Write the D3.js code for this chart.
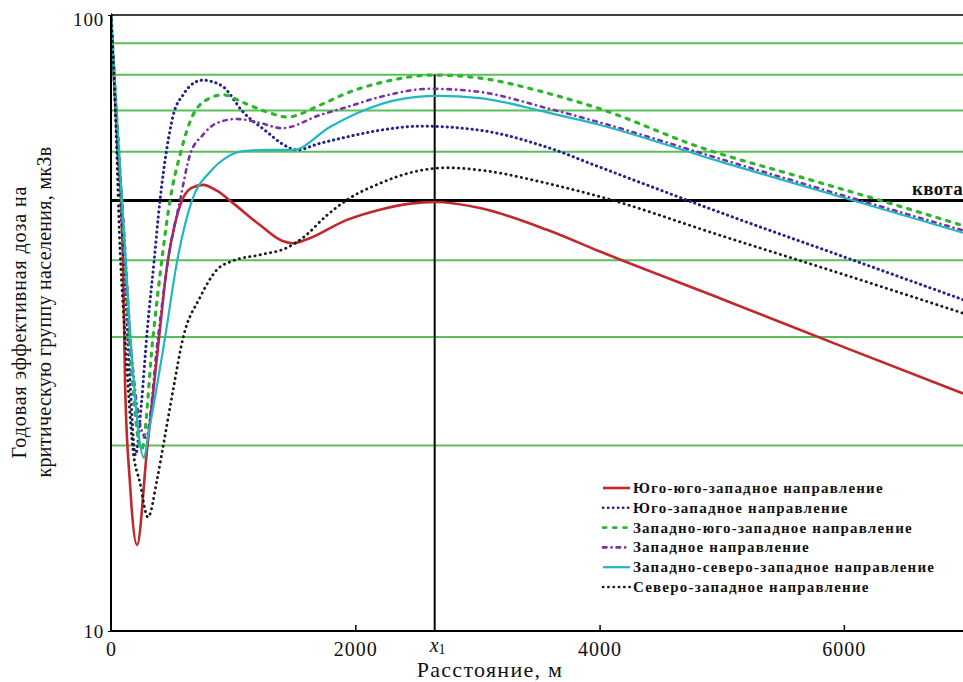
<!DOCTYPE html>
<html>
<head>
<meta charset="utf-8">
<script src="https://d3js.org/d3.v7.min.js"></script>
<style>
  body { margin: 0; background: white; }
  text { font-family: "Liberation Serif", "Times New Roman", serif; fill: #111; }
</style>
</head>
<body>
<svg width="963" height="682" id="MainSVG"></svg>
<script>
// distance (m), dose (mkSv)
const sswLine = [[0,100],[33,73],[98,40],[115,25.3],[155,17.4],[213,13.8],[295,19.7],[393,29.9],[458,39],[520,45.5],[581,50],[660,52.4],[753,53],[870,51.8],[999,49.5],[1220,45.6],[1400,43],[1490,42.6],[1600,43.2],[1932,46.5],[2202,48.3],[2450,49.4],[2650,49.7],[3021,48.6],[3570,44.8],[4004,41.3],[5000,34.6],[6000,28.9],[6976,24.3]];
const swLine = [[0,100],[30,75],[90,45],[115,36.7],[156,25.3],[200,19.3],[250,23.5],[295,30.5],[352,39.7],[401,50],[458,60.8],[508,68.6],[590,74.2],[680,77.6],[753,78.4],[830,77.9],[917,76.5],[1081,69.6],[1277,64.6],[1400,61.8],[1523,60.4],[1700,61.8],[1932,63.4],[2202,65],[2530,66],[3021,65],[3570,61],[4004,56.6],[5000,47.7],[6000,40.5],[6976,34.5]];
const wswLine = [[0,100],[35,75],[100,45],[160,28],[250,19.7],[344,30],[426,41.5],[483,50],[565,59.3],[671,68.8],[810,73.3],[917,74.2],[1081,72.1],[1277,69.6],[1441,68.3],[1711,71.4],[1932,74.7],[2202,77.6],[2653,79.9],[3021,79],[3570,74.7],[4004,70.4],[4822,61],[5641,54.6],[6270,50.2],[6976,45.5]];
const wLine = [[0,100],[35,75],[105,45],[170,28],[285,20.6],[385,30],[467,40],[565,50],[647,59.3],[753,63.9],[868,66.8],[1032,67.8],[1220,66.8],[1400,65.5],[1711,68.8],[1932,70.9],[2202,73.6],[2612,75.9],[3021,75],[3570,70.6],[4004,66.9],[5000,58.3],[6000,50.9],[6976,44.7]];
const wnwLine = [[0,100],[35,75],[105,45],[170,28],[270,19.1],[303,20.7],[442,29.9],[540,39.7],[663,50],[810,55.6],[950,58.8],[1081,60.1],[1277,60.4],[1490,60.4],[1793,65.8],[2063,69.9],[2342,72.8],[2669,73.9],[3021,73.3],[3570,69.5],[4004,66.3],[5000,57.7],[6000,50.5],[6976,44.3]];
const nwLine = [[0,100],[30,75],[74,41.6],[115,30],[180,19.7],[237,17.4],[303,15.3],[377,17.6],[426,19.9],[508,24.6],[590,29.9],[729,34.8],[868,38.6],[999,39.9],[1220,40.8],[1441,41.9],[1572,43.5],[1768,47.3],[1932,50.1],[2202,53.3],[2473,55.6],[2750,56.5],[3021,56],[3570,53.3],[4004,50.7],[5000,43.8],[6000,37.9],[6976,32.8]];

const seriesNames = ["Юго-юго-западное направление", "Юго-западное направление",
  "Западно-юго-западное направление", "Западное направление",
  "Западно-северо-западное направление", "Северо-западное направление"];
const seriesData = [sswLine, swLine, wswLine, wLine, wnwLine, nwLine];

const gridValues = [20, 30, 40, 60, 70, 80, 90];
const quotaValue = 50;
const x1Value = 2650;
const xTicks = [0, 2000, 4000, 6000];
const yTicks = [10, 100];

// look of each series (round caps make the dots)
var colors = ["#c1272d", "#24248a", "#2db52d", "#7a2fa5", "#22b6c1", "#1a1a1a"];
var dashes = [null, "0.3,4.7", "3.2,7", "3.5,5,0.1,5", null, "0.3,5"];
var widths = [2.6, 3, 3.2, 2.6, 2.2, 2.8];

var svg = d3.select("svg");
var plotL = 111, plotR = 966, plotT = 15, plotB = 631;

var xs = d3.scaleLinear().domain([0, 7000]).range([plotL, plotR]);
var ys = d3.scaleLog().domain([10, 100]).range([plotB, plotT]);

svg.append("clipPath").attr("id", "plotclip")
  .append("rect").attr("x", plotL).attr("y", plotT - 2)
  .attr("width", 963 - plotL).attr("height", plotB - plotT + 2);

// green grid lines
svg.selectAll(".grid")
  .data(gridValues)
  .enter().append("line")
  .attr("class", "grid")
  .attr("x1", plotL).attr("x2", 963)
  .attr("y1", d => ys(d)).attr("y2", d => ys(d))
  .attr("stroke", "#5cbd5c").attr("stroke-width", 2);

// quota line
svg.append("line")
  .attr("x1", plotL).attr("x2", 963)
  .attr("y1", ys(quotaValue)).attr("y2", ys(quotaValue))
  .attr("stroke", "#000").attr("stroke-width", 3);

svg.append("text")
  .attr("x", 963).attr("y", ys(quotaValue) - 5)
  .attr("text-anchor", "end")
  .attr("font-size", "19px").attr("font-weight", "bold")
  .attr("letter-spacing", "0.3px")
  .text("квота");

// x1 marker
svg.append("line")
  .attr("x1", xs(x1Value)).attr("x2", xs(x1Value))
  .attr("y1", ys(80)).attr("y2", plotB)
  .attr("stroke", "#000").attr("stroke-width", 2);

// curves
var line = d3.line()
  .x(d => xs(d[0]))
  .y(d => ys(d[1]))
  .curve(d3.curveMonotoneX);

var curves = svg.append("g").attr("clip-path", "url(#plotclip)");
seriesData.forEach(function(s, i) {
  curves.append("path")
    .attr("d", line(s))
    .attr("fill", "none")
    .attr("stroke", colors[i])
    .attr("stroke-width", widths[i])
    .attr("stroke-dasharray", dashes[i])
    .attr("stroke-linecap", dashes[i] ? "round" : "butt");
});

// axes
var xAxis = svg.append("g")
  .attr("transform", "translate(0," + plotB + ")")
  .call(d3.axisBottom(xs).tickValues(xTicks).tickSize(-6).tickPadding(11).tickFormat(d3.format("d")));
xAxis.select(".domain").remove();
xAxis.selectAll(".tick line").attr("stroke-width", 1.5).filter(d => d == 0).remove();
xAxis.selectAll(".tick text").attr("font-size", "20px").attr("font-family", "Liberation Serif")
  .attr("letter-spacing", "1px");

var yAxis = svg.append("g")
  .attr("transform", "translate(" + plotL + ",0)")
  .call(d3.axisLeft(ys).tickValues(yTicks).tickSize(3).tickPadding(4).tickFormat(d3.format("d")));
yAxis.select(".domain").remove();
yAxis.selectAll(".tick text").attr("font-size", "19px").attr("font-family", "Liberation Serif")
  .attr("letter-spacing", "0.8px")
  .attr("dy", d => d == 100 ? "0.55em" : "0.32em");

// frame lines
svg.append("line").attr("x1", plotL).attr("x2", plotL).attr("y1", plotT).attr("y2", plotB)
  .attr("stroke", "#000").attr("stroke-width", 2);
svg.append("line").attr("x1", plotL).attr("x2", 963).attr("y1", plotB).attr("y2", plotB)
  .attr("stroke", "#000").attr("stroke-width", 2);
svg.append("line").attr("x1", plotL).attr("x2", 963).attr("y1", plotT).attr("y2", plotT)
  .attr("stroke", "#000").attr("stroke-width", 1.5);

// x1 label
var x1lab = svg.append("text")
  .attr("x", xs(x1Value) - 5).attr("y", 652)
  .attr("font-size", "20px");
x1lab.append("tspan").attr("font-style", "italic").text("x");
x1lab.append("tspan").attr("font-size", "14px").attr("dy", 2).text("1");

// axis titles
svg.append("text")
  .attr("x", 490).attr("y", 677)
  .attr("text-anchor", "middle")
  .attr("font-size", "22px")
  .attr("letter-spacing", "1.3px")
  .text("Расстояние, м");

svg.append("text")
  .attr("transform", "translate(26,322) rotate(-90)")
  .attr("text-anchor", "middle")
  .attr("font-size", "20px")
  .attr("letter-spacing", "0.9px")
  .text("Годовая эффективная доза на");

svg.append("text")
  .attr("transform", "translate(51,312) rotate(-90)")
  .attr("text-anchor", "middle")
  .attr("font-size", "20px")
  .attr("letter-spacing", "0.3px")
  .text("критическую группу населения, мкЗв");

// legend
var legend = svg.append("g").attr("transform", "translate(602,488)");
var rows = legend.selectAll(".leg")
  .data(seriesNames)
  .enter().append("g")
  .attr("class", "leg")
  .attr("transform", (d, i) => "translate(0," + (i * 19.8) + ")");

rows.append("line")
  .attr("x1", 1).attr("x2", 28).attr("y1", 0).attr("y2", 0)
  .attr("stroke", (d, i) => colors[i])
  .attr("stroke-width", (d, i) => Math.min(widths[i], 2.6))
  .attr("stroke-dasharray", (d, i) => dashes[i])
  .attr("stroke-linecap", (d, i) => dashes[i] ? "round" : "butt");

rows.append("text")
  .attr("x", 31).attr("y", 5)
  .attr("font-size", "15px").attr("font-weight", "bold")
  .attr("letter-spacing", "1.2px")
  .text(d => d);
</script>
</body>
</html>
